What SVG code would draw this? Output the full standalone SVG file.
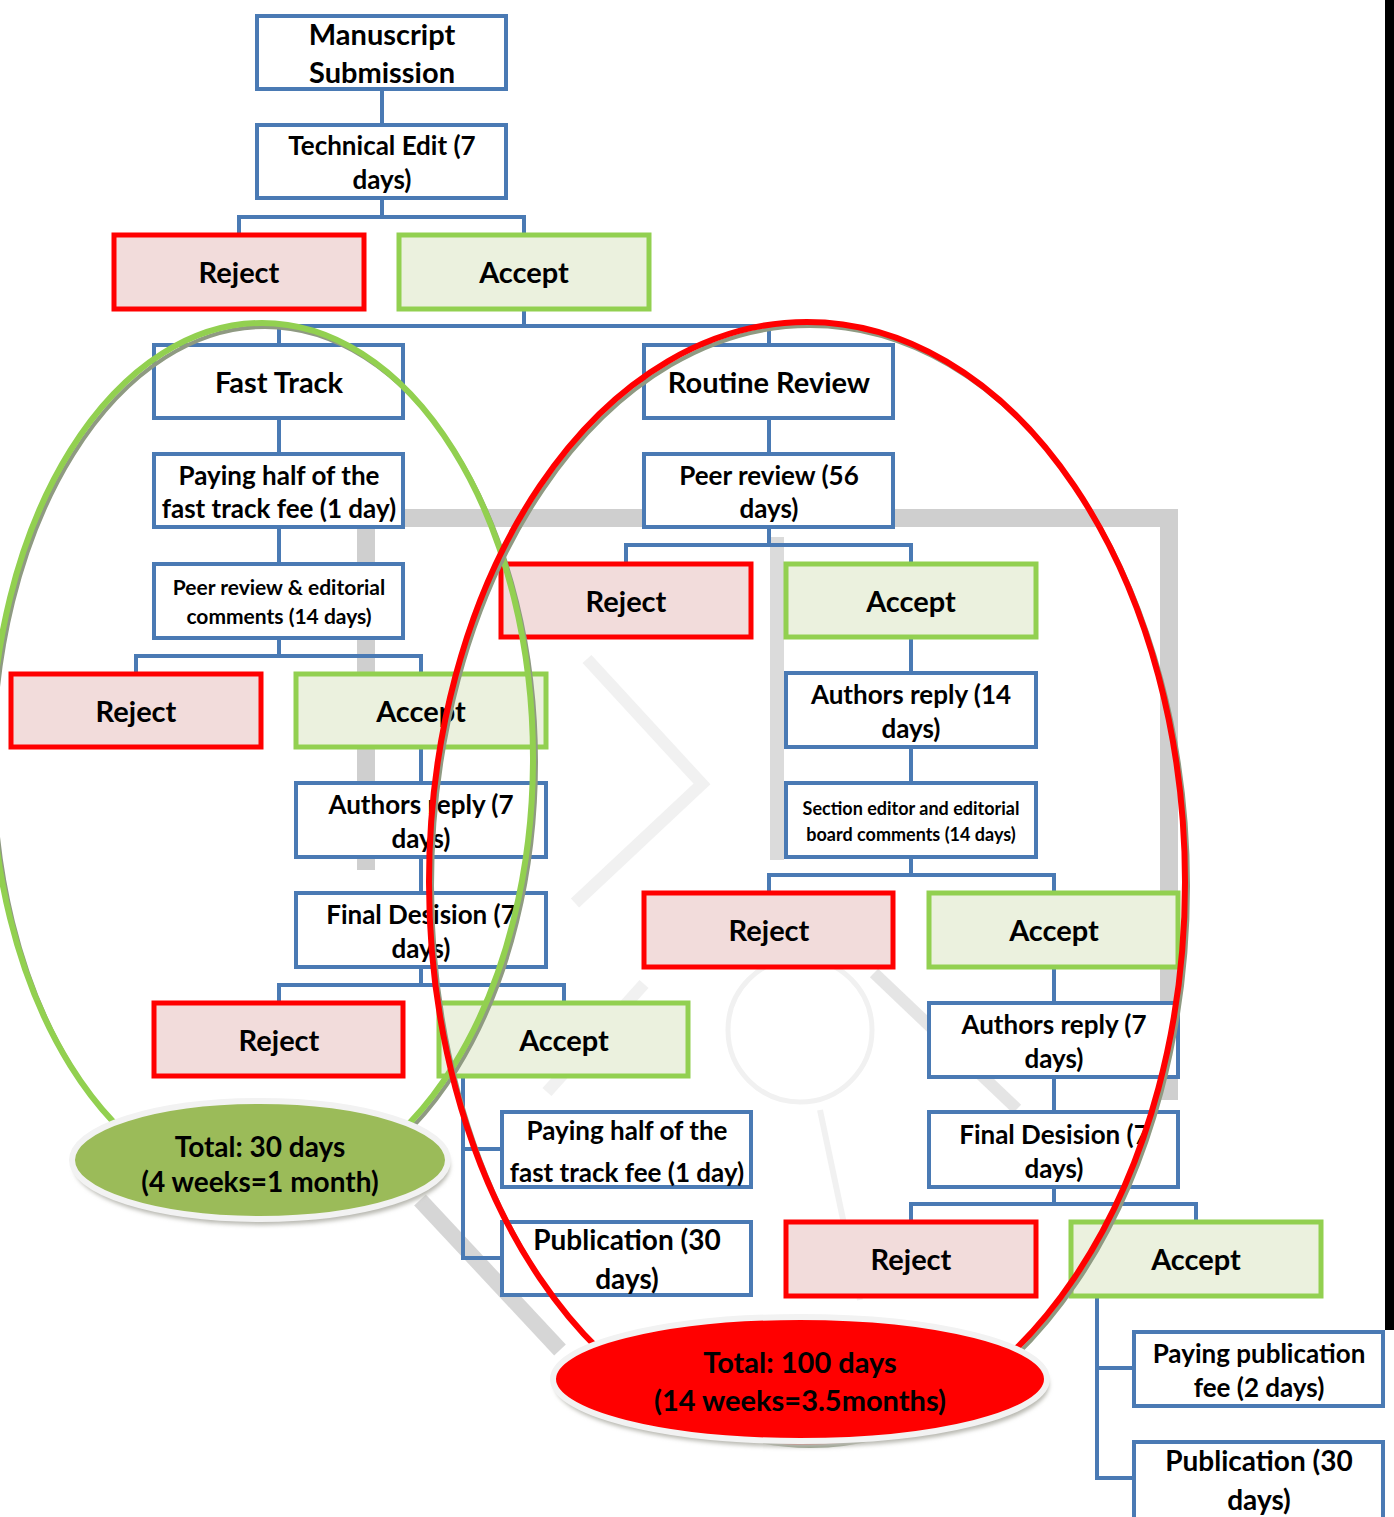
<svg xmlns="http://www.w3.org/2000/svg" width="1394" height="1517" viewBox="0 0 1394 1517">
<style>
.box{fill:#fff;stroke:#4a7ab4;stroke-width:4}
.rej{fill:#f2dcdb;stroke:#ff0000;stroke-width:5}
.acc{fill:#ebf1de;stroke:#92d050;stroke-width:5}
.conn{fill:none;stroke:#4a7ab4;stroke-width:4}
.wm{fill:none;stroke:#cfcfcf;stroke-linecap:butt}
.wf{fill:none;stroke:#f1f1f1}
text{font-family:Lato,"Liberation Sans",sans-serif;font-weight:bold;fill:#000;text-anchor:middle}
.t29{font-size:29px}
.t26{font-size:26px}
.t21{font-size:21px}
.t18{font-size:18px}
.t28{font-size:28px}
</style>
<defs>
<filter id="sh" x="-10%" y="-10%" width="120%" height="130%">
<feGaussianBlur stdDeviation="2"/>
</filter>
</defs>
<rect width="1394" height="1517" fill="#fff"/>
<g id="watermark">
<path class="wm" d="M366,870 V518 H1169 V1100" stroke-width="18"/>
<path class="wm" d="M777,537 V860" stroke-width="14" opacity="0.75"/>
<path class="wf" d="M587,659 L702,784 L575,903" stroke-width="12"/>
<path class="wf" d="M644,984 L547,1092" stroke-width="12"/>
<path class="wm" d="M874,973 L1017,1109" stroke-width="12" opacity="0.55"/>
<path class="wm" d="M420,1200 L560,1350" stroke-width="16" opacity="0.85"/>
<circle class="wf" cx="800" cy="1030" r="72" stroke-width="5"/>
<path class="wf" d="M820,1110 L860,1300" stroke-width="6"/>
</g>
<rect id="edge" x="1385" y="0" width="9" height="1330" fill="#000"/>
<g id="connectors">
<path class="conn" d="M382,91 V125"/>
<path class="conn" d="M382,200 V217 M239,235 V217 H524 V235"/>
<path class="conn" d="M524,311 V326 M279,345 V326 H769 V345"/>
<path class="conn" d="M279,420 V454 M279,529 V564"/>
<path class="conn" d="M279,640 V656 M136,674 V656 H421 V674"/>
<path class="conn" d="M421,749 V783 M421,859 V893"/>
<path class="conn" d="M421,969 V985 M279,1003 V985 H564 V1003"/>
<path class="conn" d="M463,1078 V1258 M461,1149 H502 M461,1258 H502"/>
<path class="conn" d="M769,420 V454"/>
<path class="conn" d="M769,529 V545 M626,564 V545 H911 V564"/>
<path class="conn" d="M911,639 V673 M911,749 V783"/>
<path class="conn" d="M911,859 V875 M769,893 V875 H1054 V893"/>
<path class="conn" d="M1054,969 V1003 M1054,1079 V1112"/>
<path class="conn" d="M1054,1189 V1204 M911,1222 V1204 H1196 V1222"/>
<path class="conn" d="M1097,1298 V1478 M1095,1368 H1134 M1095,1478 H1134"/>
</g>
<g id="n1"><rect class="box" x="257" y="16" width="249" height="73"/><text class="t29" x="382" y="45">Manuscript</text><text class="t29" x="382" y="83">Submission</text></g>
<g id="n2"><rect class="box" x="257" y="125" width="249" height="73"/><text class="t26" x="382" y="155">Technical Edit (7</text><text class="t26" x="382" y="189">days)</text></g>
<g id="n3"><rect class="rej" x="114" y="235" width="250" height="74"/><text class="t29" x="239" y="283">Reject</text></g>
<g id="n4"><rect class="acc" x="399" y="235" width="250" height="74"/><text class="t29" x="524" y="283">Accept</text></g>
<g id="n5"><rect class="box" x="154" y="345" width="249" height="73"/><text class="t29" x="279" y="393">Fast Track</text></g>
<g id="n6"><rect class="box" x="644" y="345" width="249" height="73"/><text class="t29" x="769" y="393">Routine Review</text></g>
<g id="n7"><rect class="box" x="154" y="454" width="249" height="73"/><text class="t26" x="279" y="485">Paying half of the</text><text class="t26" x="279" y="518">fast track fee (1 day)</text></g>
<g id="n8"><rect class="box" x="154" y="564" width="249" height="74"/><text class="t21" x="279" y="595">Peer review &amp; editorial</text><text class="t21" x="279" y="624">comments (14 days)</text></g>
<g id="n9"><rect class="rej" x="11" y="674" width="250" height="73"/><text class="t29" x="136" y="722">Reject</text></g>
<g id="n10"><rect class="acc" x="296" y="674" width="250" height="73"/><text class="t29" x="421" y="722">Accept</text></g>
<g id="n11"><rect class="box" x="296" y="783" width="250" height="74"/><text class="t26" x="421" y="814">Authors reply (7</text><text class="t26" x="421" y="848">days)</text></g>
<g id="n12"><rect class="box" x="296" y="893" width="250" height="74"/><text class="t26" x="421" y="924">Final Desision (7</text><text class="t26" x="421" y="958">days)</text></g>
<g id="n13"><rect class="rej" x="154" y="1003" width="249" height="73"/><text class="t29" x="279" y="1051">Reject</text></g>
<g id="n14"><rect class="acc" x="439" y="1003" width="249" height="73"/><text class="t29" x="564" y="1051">Accept</text></g>
<g id="n15"><rect class="box" x="502" y="1112" width="249" height="75"/><text class="t26" x="627" y="1140">Paying half of the</text><text class="t26" x="627" y="1182">fast track fee (1 day)</text></g>
<g id="n16"><rect class="box" x="502" y="1222" width="249" height="73"/><text class="t28" x="627" y="1250">Publication (30</text><text class="t28" x="627" y="1289">days)</text></g>
<g id="n17"><rect class="box" x="644" y="454" width="249" height="73"/><text class="t26" x="769" y="485">Peer review (56</text><text class="t26" x="769" y="518">days)</text></g>
<g id="n18"><rect class="rej" x="501" y="564" width="250" height="73"/><text class="t29" x="626" y="612">Reject</text></g>
<g id="n19"><rect class="acc" x="786" y="564" width="250" height="73"/><text class="t29" x="911" y="612">Accept</text></g>
<g id="n20"><rect class="box" x="786" y="673" width="250" height="74"/><text class="t26" x="911" y="704">Authors reply (14</text><text class="t26" x="911" y="738">days)</text></g>
<g id="n21"><rect class="box" x="786" y="783" width="250" height="74"/><text class="t18" x="911" y="815">Section editor and editorial</text><text class="t18" x="911" y="841">board comments (14 days)</text></g>
<g id="n22"><rect class="rej" x="644" y="893" width="249" height="74"/><text class="t29" x="769" y="941">Reject</text></g>
<g id="n23"><rect class="acc" x="929" y="893" width="249" height="74"/><text class="t29" x="1054" y="941">Accept</text></g>
<g id="n24"><rect class="box" x="929" y="1003" width="249" height="74"/><text class="t26" x="1054" y="1034">Authors reply (7</text><text class="t26" x="1054" y="1068">days)</text></g>
<g id="n25"><rect class="box" x="929" y="1112" width="249" height="75"/><text class="t26" x="1054" y="1144">Final Desision (7</text><text class="t26" x="1054" y="1178">days)</text></g>
<g id="n26"><rect class="rej" x="786" y="1222" width="250" height="74"/><text class="t29" x="911" y="1270">Reject</text></g>
<g id="n27"><rect class="acc" x="1071" y="1222" width="250" height="74"/><text class="t29" x="1196" y="1270">Accept</text></g>
<g id="n28"><rect class="box" x="1134" y="1332" width="249" height="74"/><text class="t26" x="1259" y="1363">Paying publication</text><text class="t26" x="1259" y="1397">fee (2 days)</text></g>
<g id="n29"><rect class="box" x="1134" y="1442" width="249" height="80"/><text class="t28" x="1259" y="1471">Publication (30</text><text class="t28" x="1259" y="1510">days)</text></g>
<g id="fast-ellipse">
<ellipse cx="265" cy="762" rx="271" ry="435" fill="none" stroke="#8f9a82" stroke-width="4"/>
<ellipse cx="262" cy="758" rx="271" ry="435" fill="none" stroke="#92d050" stroke-width="6"/>
</g>
<g id="routine-ellipse">
<ellipse cx="810" cy="886" rx="378" ry="560" fill="none" stroke="#8f9a82" stroke-width="4"/>
<ellipse cx="807" cy="882" rx="378" ry="560" fill="none" stroke="#ff0000" stroke-width="6"/>
</g>
<g id="total-fast">
<ellipse cx="262" cy="1166" rx="188" ry="59" fill="#b8b8b0" filter="url(#sh)"/>
<ellipse cx="260" cy="1160" rx="188" ry="59" fill="#9bbb59" stroke="#f2f2f2" stroke-width="6"/>
<text class="t28" x="260" y="1157">Total: 30 days</text>
<text class="t28" x="260" y="1192">(4 weeks=1 month)</text>
</g>
<g id="total-routine">
<ellipse cx="802" cy="1385" rx="247" ry="62" fill="#b8b8b0" filter="url(#sh)"/>
<ellipse cx="800" cy="1379" rx="247" ry="62" fill="#ff0000" stroke="#f2f2f2" stroke-width="6"/>
<text class="t29" x="800" y="1373">Total: 100 days</text>
<text class="t29" x="800" y="1411">(14 weeks=3.5months)</text>
</g>
</svg>
